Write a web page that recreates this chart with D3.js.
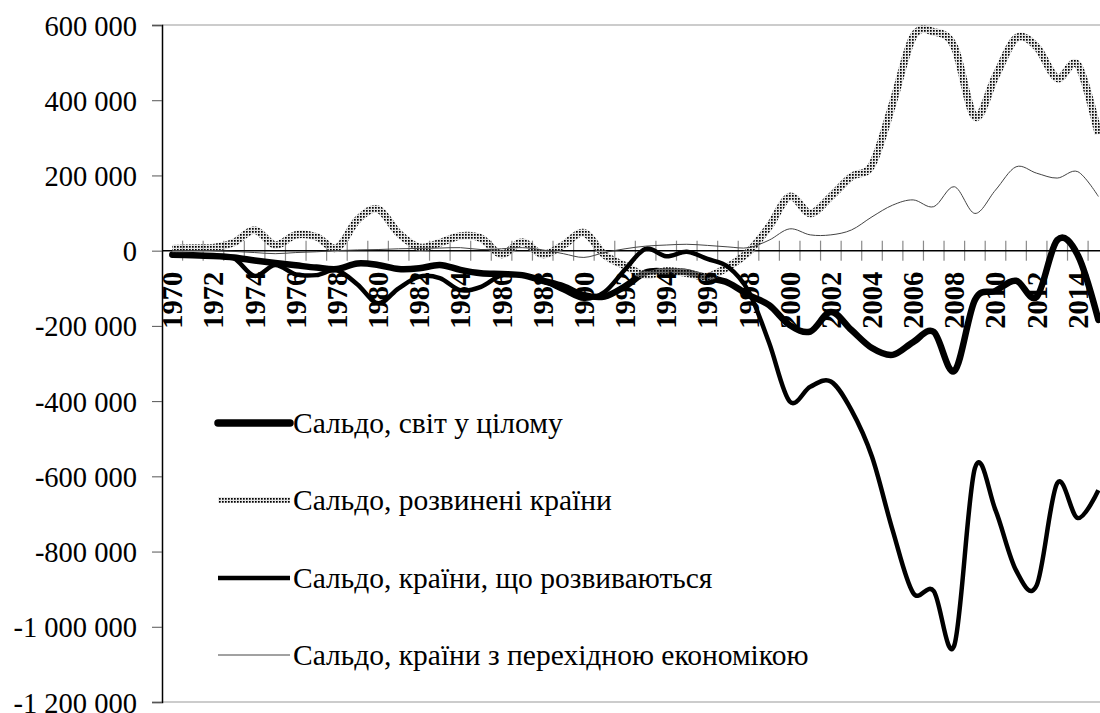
<!DOCTYPE html>
<html><head><meta charset="utf-8"><script src="https://cdn.jsdelivr.net/npm/d3@7"></script></head>
<body style="margin:0">
<script>
// years on the category axis
const years = d3.range(1970, 2016)

// balances, millions USD
const world = [-11000, -12000, -14000, -18000, -26000, -33000, -39000, -45000, -49000, -34000,
  -38000, -49000, -47000, -38000, -51000, -60000, -62000, -65000, -80000, -95000,
  -118000, -122000, -95000, -58000, -55000, -57000, -72000, -85000, -118000, -145000,
  -198000, -215000, -163000, -211000, -259000, -277000, -243000, -216000, -320000, -131000,
  -107000, -80000, -123000, 28000, -12000, -184000]

const developed = [5000, 7000, 8000, 22000, 55000, 15000, 42000, 37000, 7000, 82000,
  110000, 46000, 9000, 21000, 39000, 33000, -10000, 23000, -10000, 15000,
  48000, -11000, -40000, -65000, -54000, -60000, -69000, -43000, -3000, 64000,
  144000, 99000, 144000, 197000, 228000, 390000, 569000, 582000, 542000, 356000,
  463000, 565000, 542000, 458000, 494000, 310000]

const developing = [-10000, -12000, -13000, -20000, -67000, -38000, -63000, -65000, -52000, -90000,
  -140000, -100000, -69000, -73000, -105000, -96000, -65000, -65000, -80000, -105000,
  -128000, -110000, -50000, 5000, -15000, -3000, -22000, -43000, -108000, -245000,
  -401000, -362000, -348000, -424000, -548000, -743000, -910000, -905000, -1049000, -578000,
  -690000, -850000, -890000, -618000, -711000, -637000]

const transition = [0, 0, 0, -2000, -5000, -8000, -5000, -3000, 0, 2000,
  3000, 5000, 6000, 7000, 8000, 3000, 5000, 8000, 2000, -8000,
  -18000, -5000, 5000, 12000, 15000, 17000, 14000, 10000, 8000, 28000,
  58000, 42000, 42000, 55000, 90000, 121000, 135000, 117000, 170000, 99000,
  161000, 223000, 206000, 193000, 210000, 144000]

const yTicks = [600000, 400000, 200000, 0, -200000, -400000, -600000, -800000, -1000000, -1200000]

const seriesNames = [
  "Сальдо, світ у цілому",
  "Сальдо, розвинені країни",
  "Сальдо, країни, що розвиваються",
  "Сальдо, країни з перехідною економікою"
]

const fontName = "Liberation Serif"
const width = 1100, height = 713
const plotLeft = 162, plotTop = 25, plotBottom = 702
const step = 20.58

const svg = d3.select("body").append("svg")
  .attr("width", width)
  .attr("height", height)

// dotted fill for the developed-countries line
const defs = svg.append("defs")
const pat = defs.append("pattern")
  .attr("id", "dots")
  .attr("width", 3).attr("height", 3)
  .attr("patternUnits", "userSpaceOnUse")
pat.append("rect").attr("width", 1.7).attr("height", 1.7).attr("fill", "#000")

const x = d3.scaleBand()
  .domain(years)
  .range([plotLeft, plotLeft + years.length * step])
  .padding(0)

const y = d3.scaleLinear()
  .domain([-1200000, 600000])
  .range([plotBottom, plotTop])

const cx = d => x(d) + x.bandwidth() / 2

const fmt = d3.formatLocale({decimal: ",", thousands: " ", grouping: [3], currency: ["", ""], minus: "-"}).format(",d")

// plot border lines (top / bottom)
svg.append("line")
  .attr("x1", plotLeft).attr("x2", width)
  .attr("y1", plotTop).attr("y2", plotTop)
  .attr("stroke", "#9a9a9a").attr("stroke-width", 1.2)
svg.append("line")
  .attr("x1", plotLeft).attr("x2", width)
  .attr("y1", plotBottom).attr("y2", plotBottom)
  .attr("stroke", "#9a9a9a").attr("stroke-width", 1.2)

// Y AXIS
const yAxis = d3.axisLeft(y)
  .tickValues(yTicks)
  .tickSize(10)
  .tickPadding(15)
  .tickFormat(fmt)

const gy = svg.append("g")
  .attr("transform", "translate(" + plotLeft + ",0)")
  .call(yAxis)
// drop the axis' own sans-serif font settings
gy.attr("font-family", null).attr("font-size", null)
gy.select(".domain").attr("stroke", "#000").attr("stroke-width", 1.5)
gy.selectAll(".tick line").attr("stroke", "#555")
gy.selectAll(".tick text")
  .attr("fill", "#000")
  .attr("dy", null)
  .attr("y", 10)
  .style("font-family", fontName)
  .style("font-size", "28.5px")

// X AXIS (crosses at 0)
const y0 = y(0)
svg.append("g")
  .selectAll("line")
  .data(years.slice(1))
  .join("line")
  .attr("x1", d => x(d)).attr("x2", d => x(d))
  .attr("y1", y0 - 10).attr("y2", y0 + 10)
  .attr("stroke", "#8a8a8a").attr("stroke-width", 1.2)

svg.append("line")
  .attr("x1", plotLeft).attr("x2", width)
  .attr("y1", y0).attr("y2", y0)
  .attr("stroke", "#000").attr("stroke-width", 1.5)

// lines
const line = d3.line()
  .x((d, i) => cx(years[i]))
  .y(d => y(d))
  .curve(d3.curveCardinal.tension(0))

svg.append("path")
  .datum(world)
  .attr("d", line)
  .attr("fill", "none")
  .attr("stroke", "#000")
  .attr("stroke-width", 6.5)
  .attr("stroke-linejoin", "round")
  .attr("stroke-linecap", "round")

svg.append("path")
  .datum(developed)
  .attr("d", line)
  .attr("fill", "none")
  .attr("stroke", "#d0d0d0")
  .attr("stroke-opacity", 0.5)
  .attr("stroke-width", 8)
svg.append("path")
  .datum(developed)
  .attr("d", line)
  .attr("fill", "none")
  .attr("stroke", "url(#dots)")
  .attr("stroke-width", 7.5)

svg.append("path")
  .datum(developing)
  .attr("d", line)
  .attr("fill", "none")
  .attr("stroke", "#000")
  .attr("stroke-width", 4.5)
  .attr("stroke-linejoin", "round")

svg.append("path")
  .datum(transition)
  .attr("d", line)
  .attr("fill", "none")
  .attr("stroke", "#444")
  .attr("stroke-width", 1)

// category labels, every second year, rotated
years.filter((d, i) => i % 2 === 0).forEach(d => {
  svg.append("text")
    .attr("transform", "translate(" + (cx(d) + 10) + "," + (y0 + 21) + ") rotate(-90)")
    .attr("text-anchor", "end")
    .style("font-family", fontName)
    .style("font-size", "28.5px")
    .style("font-weight", "bold")
    .text(d)
})

// LEGEND
const legendY = [423, 500, 578, 655]
seriesNames.forEach((name, i) => {
  const ly = legendY[i]
  if (i === 1) {
    svg.append("line").attr("x1", 218).attr("x2", 290).attr("y1", ly).attr("y2", ly)
      .attr("stroke", "#d0d0d0").attr("stroke-opacity", 0.5).attr("stroke-width", 6)
    svg.append("line").attr("x1", 218).attr("x2", 290).attr("y1", ly).attr("y2", ly)
      .attr("stroke", "url(#dots)").attr("stroke-width", 6)
  } else {
    const sw = [7.5, 0, 4.5, 1][i]
    svg.append("line").attr("x1", 218).attr("x2", 290).attr("y1", ly).attr("y2", ly)
      .attr("stroke", i === 3 ? "#444" : "#000")
      .attr("stroke-width", sw)
      .attr("stroke-linecap", i === 0 ? "round" : "butt")
  }
  svg.append("text")
    .attr("x", 293).attr("y", ly + 10)
    .style("font-family", fontName)
    .style("font-size", "29.5px")
    .text(name)
})
</script>
</body>
</html>
